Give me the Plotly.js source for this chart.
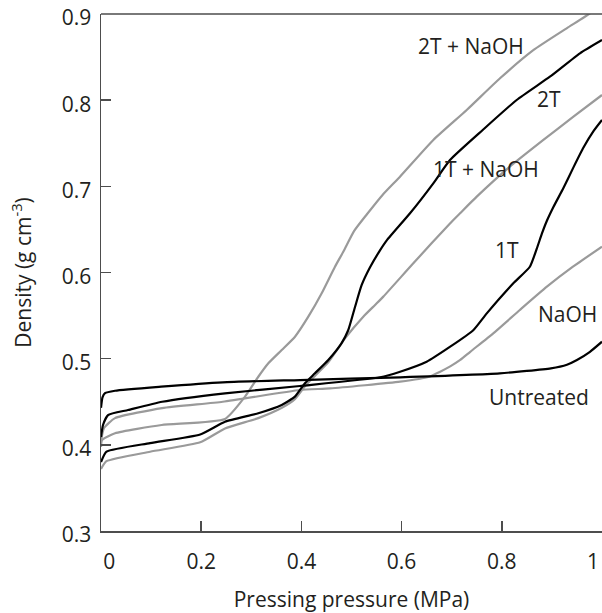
<!DOCTYPE html>
<html>
<head>
<meta charset="utf-8">
<script src="https://cdn.plot.ly/plotly-3.0.1.min.js"></script>
<style>html,body{margin:0;padding:0;background:#fff;}#chart{width:602px;height:613px;}</style>
</head>
<body>
<div id="chart"></div>
<script>
// ---- Data ----
var untreatedX = [0, 0.003, 0.008, 0.028, 0.12, 0.243, 0.397, 0.597, 0.796, 0.898, 0.93, 0.95, 0.976, 1.0];
var untreatedY = [0.443, 0.455, 0.460, 0.4628, 0.4675, 0.4726, 0.4752, 0.4784, 0.483, 0.4888, 0.493, 0.4985, 0.508, 0.5197];

var naohX = [0, 0.006, 0.028, 0.122, 0.243, 0.397, 0.457, 0.597, 0.655, 0.677, 0.697, 0.717, 0.737, 0.783, 0.836, 0.89, 0.942, 1.0];
var naohY = [0.404, 0.4195, 0.431, 0.4427, 0.450, 0.4636, 0.4655, 0.4733, 0.479, 0.4849, 0.491, 0.4985, 0.508, 0.5294, 0.5565, 0.5835, 0.6067, 0.630];

var t1X = [0, 0.004, 0.014, 0.054, 0.122, 0.2475, 0.397, 0.557, 0.597, 0.65, 0.697, 0.743, 0.77, 0.823, 0.856, 0.870, 0.880, 0.890, 0.903, 0.923, 0.943, 0.963, 0.983, 1.0];
var t1Y = [0.409, 0.423, 0.4346, 0.4404, 0.450, 0.4598, 0.4683, 0.4784, 0.4849, 0.4965, 0.5139, 0.533, 0.5526, 0.5875, 0.6067, 0.628, 0.645, 0.660, 0.676, 0.698, 0.722, 0.745, 0.764, 0.777];

var t1NaohX = [0, 0.011, 0.098, 0.198, 0.2475, 0.314, 0.361, 0.387, 0.407, 0.427, 0.454, 0.487, 0.5235, 0.547, 0.5635, 0.6234, 0.6966, 0.7166, 0.75, 0.816, 0.883, 0.943, 1.0];
var t1NaohY = [0.372, 0.381, 0.392, 0.403, 0.419, 0.431, 0.443, 0.453, 0.468, 0.480, 0.496, 0.5235, 0.5487, 0.5623, 0.572, 0.6107, 0.657, 0.6687, 0.688, 0.7228, 0.7538, 0.7808, 0.806];

var t2X = [0, 0.011, 0.098, 0.198, 0.2475, 0.314, 0.3607, 0.387, 0.407, 0.427, 0.4537, 0.480, 0.4936, 0.507, 0.520, 0.537, 0.555, 0.570, 0.6168, 0.6633, 0.6966, 0.763, 0.8297, 0.896, 0.956, 1.0];
var t2Y = [0.380, 0.392, 0.402, 0.412, 0.4268, 0.4366, 0.4462, 0.4559, 0.4714, 0.483, 0.4985, 0.5178, 0.5333, 0.560, 0.585, 0.606, 0.624, 0.637, 0.6687, 0.7035, 0.7306, 0.766, 0.8002, 0.8272, 0.8544, 0.8698];

var t2NaohX = [0, 0.002, 0.028, 0.121, 0.2475, 0.2874, 0.314, 0.334, 0.3607, 0.3872, 0.4138, 0.4405, 0.467, 0.4836, 0.505, 0.530, 0.562, 0.5968, 0.6633, 0.73, 0.7964, 0.8629, 0.9295, 0.976, 1.0];
var t2NaohY = [0.3975, 0.4056, 0.4134, 0.423, 0.430, 0.4559, 0.479, 0.4946, 0.510, 0.5255, 0.5487, 0.5759, 0.6067, 0.624, 0.648, 0.667, 0.690, 0.7112, 0.7538, 0.7886, 0.8254, 0.858, 0.8834, 0.9008, 0.912];

var seriesNames = ['Untreated', 'NaOH', '1T', '1T + NaOH', '2T', '2T + NaOH'];

var xTickVals = [0, 0.2, 0.4, 0.6, 0.8, 1];
var xTickLabels = ['0', '0.2', '0.4', '0.6', '0.8', '1'];
var yTickVals = [0.3, 0.4, 0.5, 0.6, 0.7, 0.8, 0.9];
var yTickLabels = ['0.3', '0.4', '0.5', '0.6', '0.7', '0.8', '0.9'];

// label positions (data units) for the curve labels
var labelX = [0.874, 0.932, 0.810, 0.768, 0.894, 0.7385];
var labelY = [0.456, 0.5518, 0.626, 0.720, 0.8013, 0.8628];

// ---- Styling ----
var FONT = 'Open Sans, Noto Sans, DejaVu Sans, sans-serif';
var FS = 21;
var TXT = '#231f20';
var AX = '#4d4d4d';
var BLACK = '#000000';
var GRAY = '#9a9a9a';
var NB = '\u00A0\u00A0\u00A0';

function tr(x, y, color, name) {
  return {x: x, y: y, type: 'scatter', mode: 'lines', name: name,
    line: {color: color, width: 2.2, shape: 'spline', smoothing: 0.5},
    hoverinfo: 'skip'};
}

var data = [
  tr(naohX, naohY, GRAY, seriesNames[1]),
  tr(t1NaohX, t1NaohY, GRAY, seriesNames[3]),
  tr(t2NaohX, t2NaohY, GRAY, seriesNames[5]),
  tr(untreatedX, untreatedY, BLACK, seriesNames[0]),
  tr(t1X, t1Y, BLACK, seriesNames[2]),
  tr(t2X, t2Y, BLACK, seriesNames[4])
];

// last x tick label sits at the right edge of the page: drawn as an annotation nudged inward
var lastIdx = xTickLabels.length - 1;
var xTickText = xTickLabels.map(function (s, i) {
  if (i === 0) return NB + s;
  if (i === lastIdx) return '';
  return s;
});

var annotations = seriesNames.map(function (n, i) {
  return {x: labelX[i], y: labelY[i], xref: 'x', yref: 'y', text: n, showarrow: false,
    xanchor: 'center', yanchor: 'middle', font: {family: FONT, size: FS, color: TXT}};
});
annotations.push({x: xTickVals[lastIdx], y: 0, xref: 'x', yref: 'paper', text: xTickLabels[lastIdx],
  showarrow: false, xanchor: 'right', yanchor: 'top', xshift: -1, yshift: -14,
  font: {family: FONT, size: FS, color: TXT}});

var layout = {
  width: 602, height: 613,
  margin: {l: 101, r: 0, t: 14, b: 82, pad: 0},
  paper_bgcolor: '#ffffff', plot_bgcolor: '#ffffff',
  showlegend: false,
  font: {family: FONT, size: FS, color: TXT},
  xaxis: {
    range: [0, 1], tickvals: xTickVals, ticktext: xTickText,
    ticks: 'inside', ticklen: 10, tickwidth: 1.5, tickcolor: AX,
    showline: true, linecolor: AX, linewidth: 1.5, mirror: false,
    showgrid: false, zeroline: false,
    ticklabelstandoff: 11, ticklabeloverflow: 'allow',
    tickfont: {family: FONT, size: FS, color: TXT},
    title: {text: 'Pressing pressure (MPa)', font: {family: FONT, size: FS, color: TXT}, standoff: 26}
  },
  yaxis: {
    range: [0.3, 0.9], tickvals: yTickVals, ticktext: yTickLabels,
    ticks: 'inside', ticklen: 10, tickwidth: 1.5, tickcolor: AX,
    showline: true, linecolor: AX, linewidth: 1.5, mirror: false,
    showgrid: false, zeroline: false,
    ticklabelstandoff: 4, ticklabelshift: 4, ticklabeloverflow: 'allow',
    tickfont: {family: FONT, size: FS, color: TXT},
    title: {text: 'Density (g cm<sup>-3</sup>)', font: {family: FONT, size: FS, color: TXT}, standoff: 24}
  },
  shapes: [{type: 'line', xref: 'paper', yref: 'paper', x0: 0, x1: 1, y0: 1, y1: 1,
    line: {color: AX, width: 1.5}}],
  annotations: annotations
};

Plotly.newPlot('chart', data, layout, {staticPlot: true, displayModeBar: false});
</script>
</body>
</html>
